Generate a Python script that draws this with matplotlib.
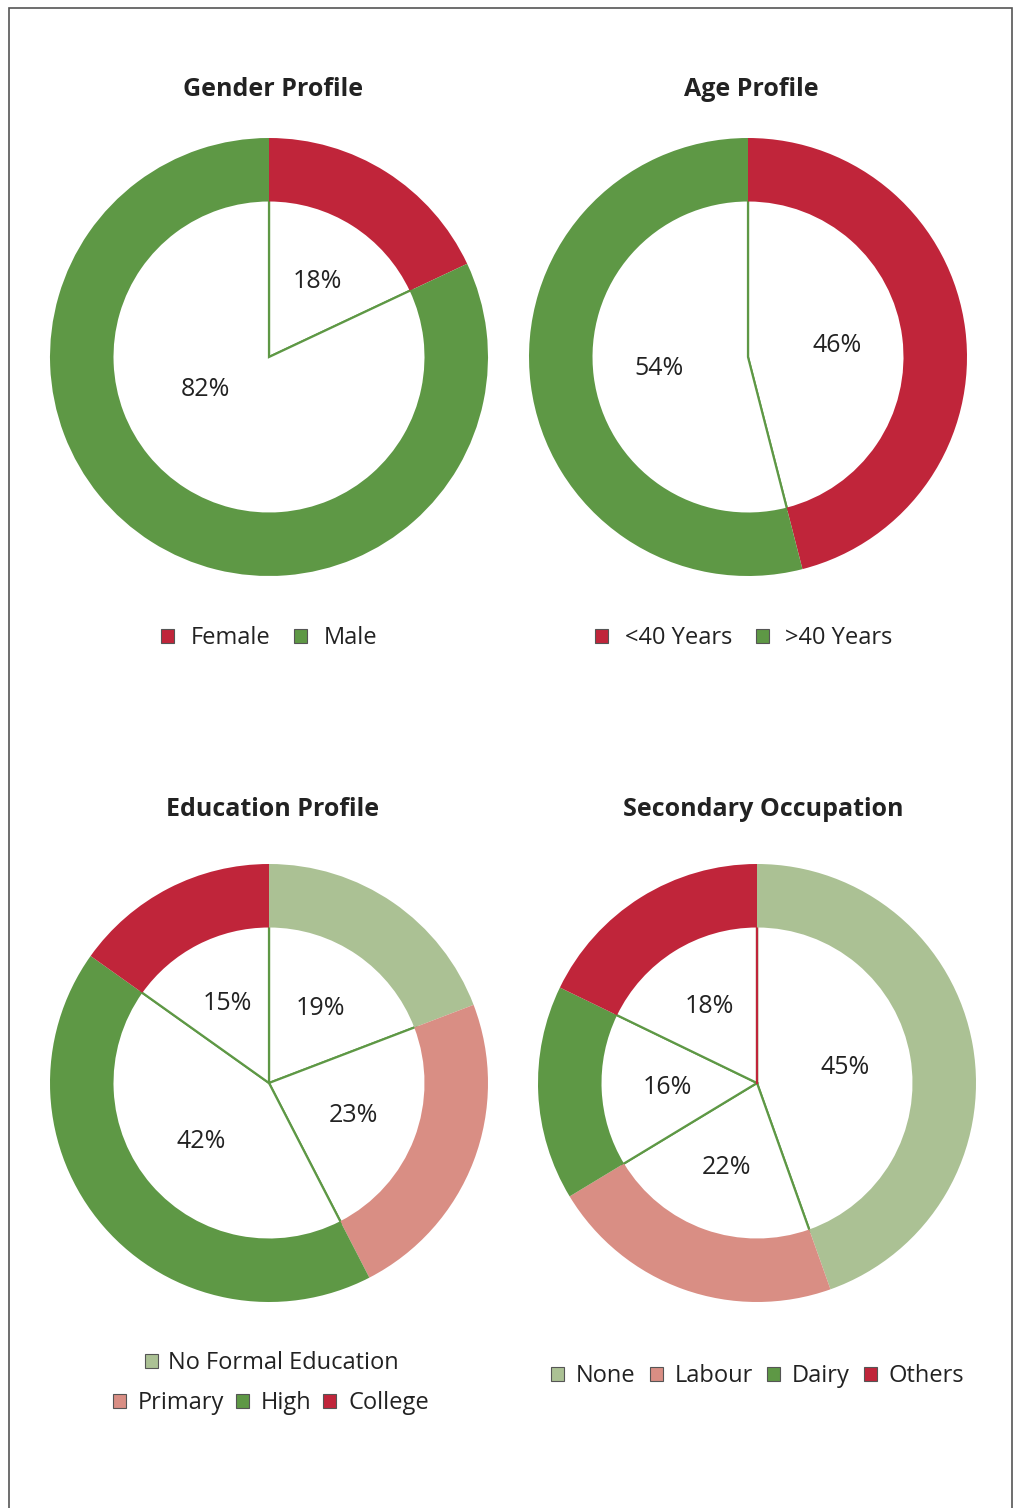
import matplotlib.pyplot as plt
from matplotlib.patches import Patch, Rectangle

plt.rcParams['font.family'] = ['Open Sans', 'DejaVu Sans']

# Data
gender_labels = ["Female", "Male"]
gender_values = [18, 82]

age_labels = ["<40 Years", ">40 Years"]
age_values = [46, 54]

edu_labels = ["No Formal Education", "Primary", "High", "College"]
edu_values = [19, 23, 42, 15]

occ_labels = ["None", "Labour", "Dairy", "Others"]
occ_values = [45, 22, 16, 18]

RED = "#C0253A"
GREEN = "#5E9845"
LIGHT_GREEN = "#ABC194"
SALMON = "#D98E84"

W, H = 1013, 1508
fig = plt.figure(figsize=(W / 100, H / 100), dpi=100)

# outer frame
fig.patches.append(Rectangle((9 / W, -0.01), (1012 - 9) / W, (H - 8) / H + 0.01,
                             transform=fig.transFigure, fill=False,
                             edgecolor="#555555", lw=1.2))


def donut(cx, cy, values, colors, title, tx, ty):
    r = 219
    ax = fig.add_axes([(cx - r) / W, (H - cy - r) / H, 2 * r / W, 2 * r / H])
    # inner white pie with green spokes
    _, _, pct = ax.pie(values, radius=0.72, startangle=90, counterclock=False,
                       colors=["white"] * len(values),
                       wedgeprops=dict(edgecolor=GREEN, linewidth=1.6),
                       autopct=lambda p: f"{round(p)}%", pctdistance=0.57,
                       textprops=dict(fontsize=18, color="#222222"))
    # outer ring
    wedges, _ = ax.pie(values, radius=1.0, startangle=90, counterclock=False,
                       colors=colors, wedgeprops=dict(width=0.29, linewidth=0))
    for w in wedges:
        w.set_zorder(2)
    ax.set_xlim(-1, 1)
    ax.set_ylim(-1, 1)
    ax.set_aspect("equal")
    ax.axis("off")
    fig.text(tx / W, 1 - (ty + 2) / H, title, ha="center", va="center",
             fontsize=18, fontweight="bold", color="#222222")
    return ax, pct


def handles(labels, colors):
    return [Patch(facecolor=c, edgecolor="#555555", lw=0.8, label=l)
            for l, c in zip(labels, colors)]


leg_kw = dict(frameon=False, fontsize=17, handlelength=0.55, handleheight=0.55,
              handletextpad=0.7, columnspacing=1.0, labelcolor="#222222")

ax1, pct1 = donut(269, 357, gender_values, [RED, GREEN], "Gender Profile", 273, 88)
pct1[1].set_position((-0.29, -0.15))
fig.legend(handles=handles(gender_labels, [RED, GREEN]), loc="center", ncol=2,
           bbox_to_anchor=(269 / W, 1 - 638 / H), **leg_kw)

ax2, _ = donut(748, 357, age_values, [RED, GREEN], "Age Profile", 751, 88)
fig.legend(handles=handles(age_labels, [RED, GREEN]), loc="center", ncol=2,
           bbox_to_anchor=(744 / W, 1 - 638 / H), **leg_kw)

edu_colors = [LIGHT_GREEN, SALMON, GREEN, RED]
ax3, _ = donut(269, 1083, edu_values, edu_colors, "Education Profile", 273, 808)
hs = handles(edu_labels, edu_colors)
fig.legend(handles=hs[:1], loc="center", ncol=1,
           bbox_to_anchor=(272 / W, 1 - 1363 / H), **{**leg_kw, "handletextpad": 0.4})
fig.legend(handles=hs[1:], loc="center", ncol=3,
           bbox_to_anchor=(271 / W, 1 - 1403 / H),
           **{**leg_kw, "handletextpad": 0.5, "columnspacing": 0.5})

occ_colors = [LIGHT_GREEN, SALMON, GREEN, RED]
ax4, _ = donut(757, 1083, occ_values, occ_colors, "Secondary Occupation", 763, 808)
ax4.plot([0, 0], [0, 0.71], color=RED, lw=1.6, zorder=1.5)
fig.legend(handles=handles(occ_labels, occ_colors), loc="center", ncol=4,
           bbox_to_anchor=(758 / W, 1 - 1376 / H),
           **{**leg_kw, "handletextpad": 0.5, "columnspacing": 0.6})

fig.savefig("out.png", dpi=100)
